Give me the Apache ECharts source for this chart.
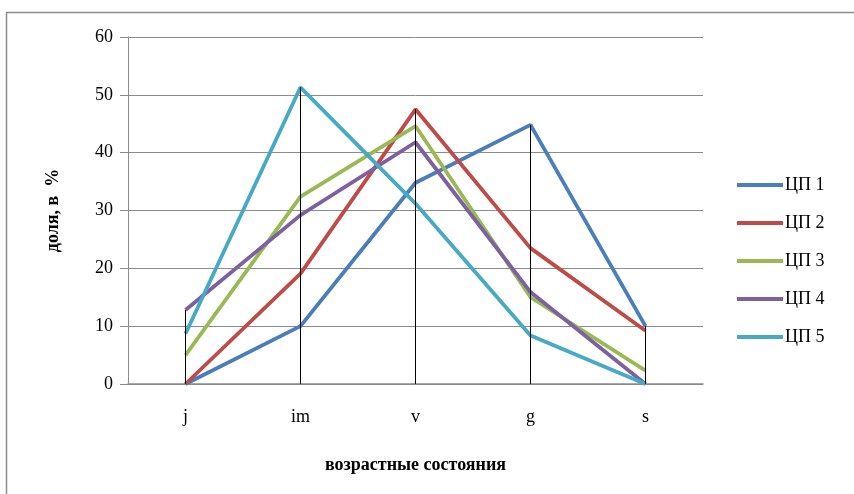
<!DOCTYPE html>
<html>
<head>
<meta charset="utf-8">
<style>
  html, body { margin: 0; padding: 0; background: #ffffff; }
  #chart { width: 854px; height: 494px; }
</style>
<script src="https://cdn.jsdelivr.net/npm/echarts@6/dist/echarts.min.js"></script>
</head>
<body>
<div id="chart"></div>
<script>
// Age states along the x axis
const categories = ['j', 'im', 'v', 'g', 's'];

// Share (%) of each age state per population
const seriesNames = ['ЦП 1', 'ЦП 2', 'ЦП 3', 'ЦП 4', 'ЦП 5'];
const cp1 = [0, 10, 34.8, 44.8, 10];
const cp2 = [0, 19.1, 47.5, 23.5, 9.2];
const cp3 = [5, 32.4, 44.6, 15, 2.3];
const cp4 = [12.8, 29.2, 41.8, 15.9, 0];
const cp5 = [8.7, 51.3, 31.2, 8.4, 0];

const yTicks = [0, 10, 20, 30, 40, 50, 60];

const colors = ['#4A7EBB', '#BE4B48', '#98B954', '#7D60A0', '#46AAC5'];
const allSeries = [cp1, cp2, cp3, cp4, cp5];

// Drop lines: from the axis up to the highest value in each category
const dropLines = categories.map((c, i) => {
  const top = Math.max(...allSeries.map(s => s[i]));
  return [{ coord: [i, 0] }, { coord: [i, top] }];
});

const serif = '"Liberation Serif", "DejaVu Serif", serif';

const chart = echarts.init(document.getElementById('chart'), null, { renderer: 'canvas' });

const series = allSeries.map((data, k) => ({
  name: seriesNames[k],
  type: 'line',
  data: data,
  symbol: 'none',
  z: 3,
  lineStyle: { width: 3.8, color: colors[k] },
  itemStyle: { color: colors[k] }
}));

series.push({
  name: 'drop',
  type: 'line',
  data: [],
  silent: true,
  z: 2,
  markLine: {
    silent: true,
    symbol: 'none',
    label: { show: false },
    lineStyle: { color: '#000000', width: 1, type: 'solid' },
    data: dropLines
  }
});

chart.setOption({
  animation: false,
  backgroundColor: '#ffffff',
  graphic: [{
    type: 'rect',
    shape: { x: 6.5, y: 12.5, width: 900, height: 600 },
    style: { fill: 'none', stroke: '#8c8c8c', lineWidth: 1.5 },
    silent: true
  }],
  grid: { left: 128, right: 151, top: 37, bottom: 110 },
  legend: {
    orient: 'vertical',
    left: 732,
    top: 171,
    itemWidth: 46,
    itemHeight: 4,
    itemGap: 20,
    data: seriesNames.map((n, k) => ({ name: n, icon: 'rect', itemStyle: { color: colors[k] } })),
    textStyle: { fontFamily: serif, fontSize: 18, color: '#000', padding: [0, 0, 0, -3] }
  },
  xAxis: {
    type: 'category',
    data: categories,
    boundaryGap: true,
    name: 'возрастные состояния',
    nameLocation: 'middle',
    nameGap: 72,
    nameTextStyle: { fontFamily: serif, fontSize: 18, fontWeight: 'bold', color: '#000' },
    axisLine: { lineStyle: { color: '#8c8c8c', width: 1.5 } },
    axisTick: { show: false },
    axisLabel: { fontFamily: serif, fontSize: 18, color: '#000', margin: 24 }
  },
  yAxis: {
    type: 'value',
    min: yTicks[0],
    max: yTicks[yTicks.length - 1],
    interval: 10,
    name: 'доля, в  %',
    nameLocation: 'middle',
    nameGap: 66,
    nameRotate: 90,
    nameTextStyle: { fontFamily: serif, fontSize: 18, fontWeight: 'bold', color: '#000' },
    axisLine: { show: true, lineStyle: { color: '#8c8c8c', width: 1 } },
    axisTick: { show: true, length: 8, lineStyle: { color: '#8c8c8c' } },
    splitLine: { lineStyle: { color: '#8c8c8c', width: 1 } },
    axisLabel: { fontFamily: serif, fontSize: 18, color: '#000', margin: 15 }
  },
  series: series
});
</script>
</body>
</html>
